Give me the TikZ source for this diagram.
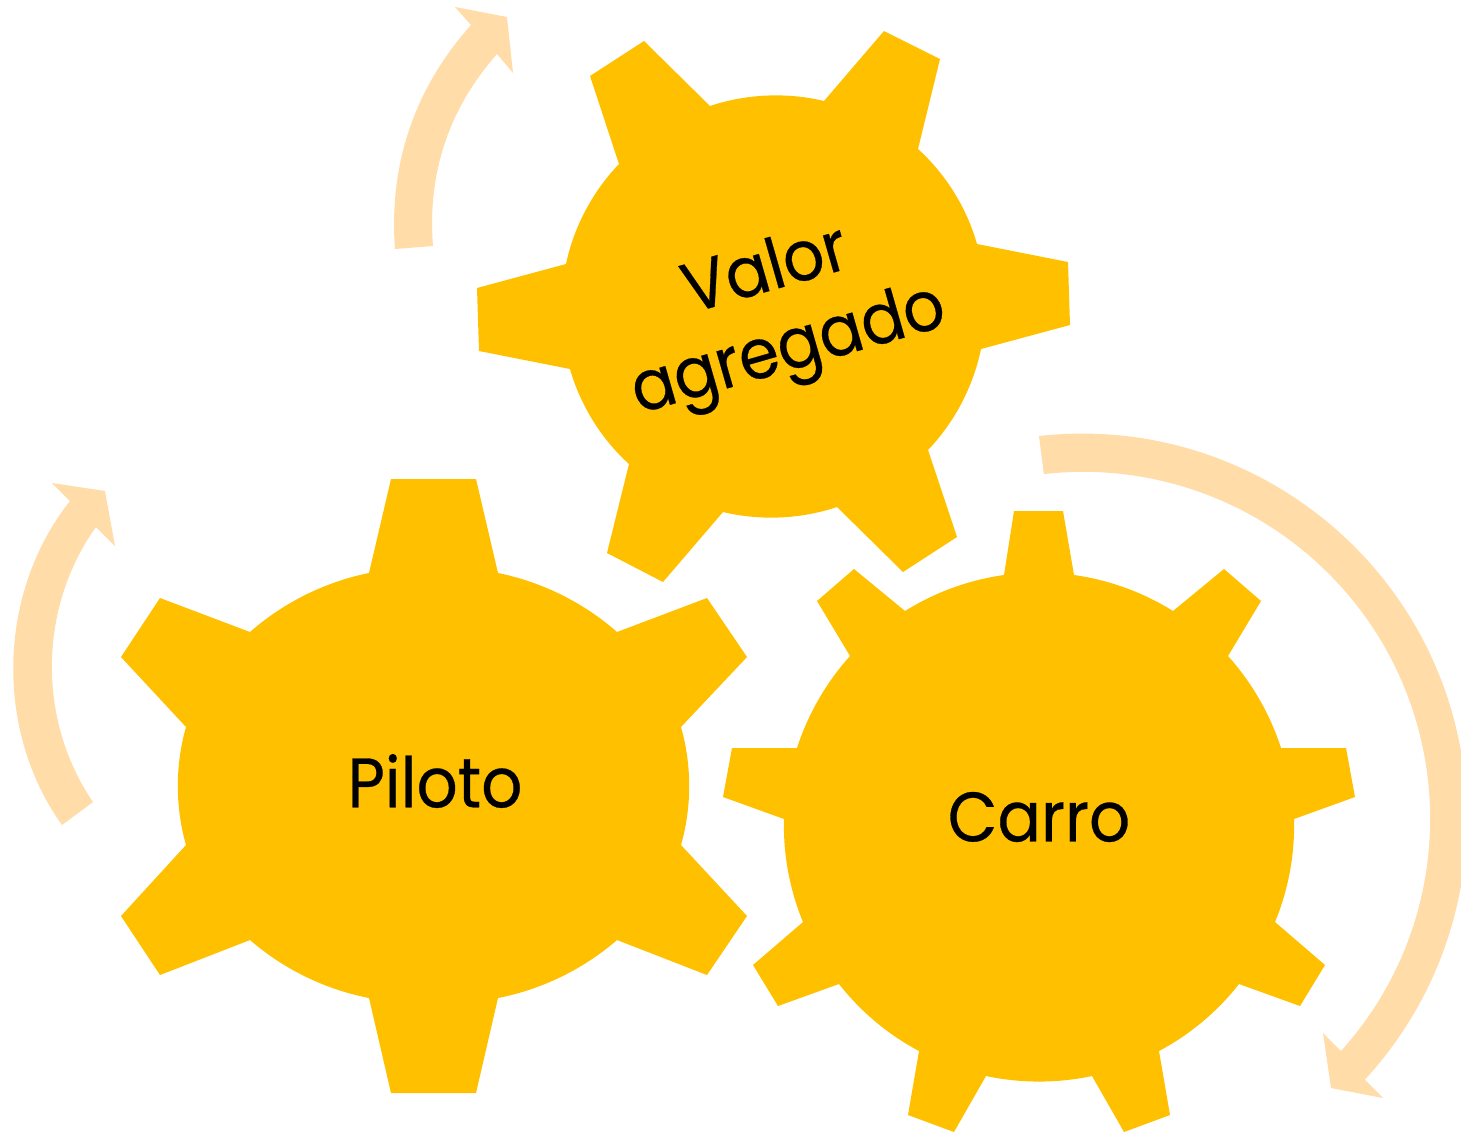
\documentclass[tikz,border=0pt]{standalone}
\usepackage{fontspec}
\setmainfont{Poppins}[FakeStretch=0.92, FakeBold=0.4]
\usepackage{tikz}
\definecolor{gearfill}{HTML}{FFC000}
\definecolor{turnfill}{HTML}{FFDCA8}
\tikzset{
    gear/.style={fill=gearfill, draw=none, looseness=0.86},
    turn/.style={fill=turnfill, draw=none, looseness=0.92},
    gearlabel/.style={inner sep=0pt, align=center, text=black, font=\fontsize{35}{41}\selectfont}
}

\begin{document}
\begin{tikzpicture}[x=0.5pt, y=-0.5pt]
    \clip (0,0) rectangle (1461,1131);

    % turning arrows
    \fill[turn] (395,249) to[bend left=23] (471,25) -- (455,7) -- (507,17) -- (513,73) -- (497,54)
        to[bend right=23] (433,246) -- cycle;
    \fill[turn] (62,825) to[bend left=37] (70,501) -- (52,483) -- (105,491) -- (115,546) -- (96,527)
        to[bend right=35] (93,802) -- cycle;
    \fill[turn] (1039,436) arc[start angle=-96.4, end angle=42.7, radius=385]
        -- (1383,1098) -- (1331,1088) -- (1323,1033) -- (1341,1051)
        arc[start angle=42, end angle=-96.5, radius=347] -- cycle;

    % top gear
    \fill[gear] (644,41) -- (710,106) to[bend left=16] (824,101) -- (884,31) -- (940,59) -- (918,149)
        to[bend left=16] (977,244) -- (1068,262) -- (1070,325) -- (981,349)
        to[bend left=16] (928,450) -- (957,537) -- (903,572) -- (837,507)
        to[bend left=16] (723,512) -- (663,582) -- (607,553) -- (629,464)
        to[bend left=16] (570,369) -- (479,351) -- (477,288) -- (566,264)
        to[bend left=16] (619,164) -- (590,76) -- cycle;

    % left gear
    \fill[gear] (391,479) -- (476,479) -- (498,573)
        to[bend left=15] (617,632) -- (707,598) -- (747,657) -- (681,727)
        to[bend left=16] (681,845) -- (747,916) -- (707,975) -- (617,940)
        to[bend left=15] (498,998) -- (476,1093) -- (391,1093) -- (369,998)
        to[bend left=15] (250,940) -- (160,975) -- (121,916) -- (186,845)
        to[bend left=16] (186,727) -- (121,657) -- (160,598) -- (250,632)
        to[bend left=15] (369,573) -- cycle;

    % right gear
    \fill[gear] (1014,511) -- (1063,511) -- (1074,575)
        to[bend left=12] (1173,611) -- (1224,569) -- (1261,601) -- (1228,656)
        to[bend left=12] (1281,748) -- (1346,748) -- (1355,797) -- (1294,819)
        to[bend left=12] (1275,922) -- (1325,965) -- (1300,1006) -- (1239,984)
        to[bend left=12] (1159,1051) -- (1170,1115) -- (1124,1132) -- (1092,1076)
        to[bend left=12] (986,1076) -- (954,1132) -- (908,1115) -- (919,1051)
        to[bend left=12] (839,984) -- (778,1006) -- (753,965) -- (803,922)
        to[bend left=12] (784,819) -- (723,797) -- (732,748) -- (797,748)
        to[bend left=12] (850,656) -- (817,601) -- (854,569) -- (905,611)
        to[bend left=12] (1004,575) -- cycle;

    \node[gearlabel, rotate=16] (valor) at (778,314) {Valor\\agregado};
    \node[gearlabel] (piloto) at (435,781) {Piloto};
    \node[gearlabel] (carro) at (1039,817) {Carro};
\end{tikzpicture}
\end{document}
